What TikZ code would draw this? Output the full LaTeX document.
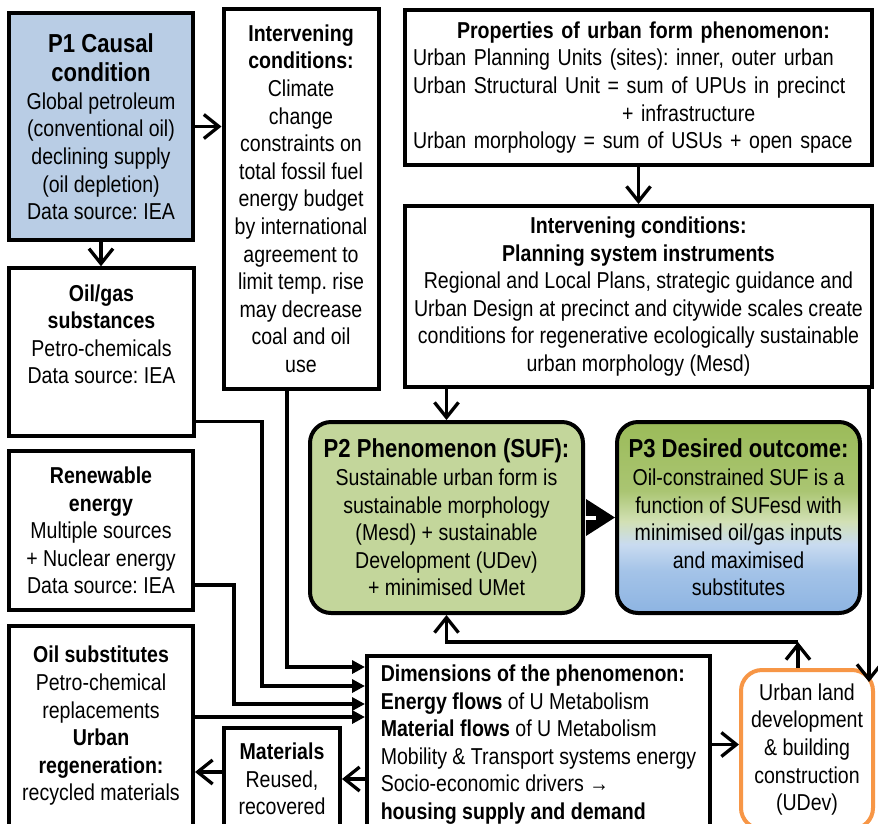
\documentclass[tikz,border=0pt]{standalone}
\usepackage{fontspec}
\setmainfont{Liberation Sans}[FakeStretch=0.85]
\usetikzlibrary{arrows.meta, positioning, calc}
\frenchspacing

\definecolor{p1blue}{HTML}{B9CDE5}
\definecolor{p2green}{HTML}{C3D69B}
\definecolor{p3green}{HTML}{9BBB59}
\definecolor{p3light}{HTML}{C9DBF0}
\definecolor{p3blue}{HTML}{8DB4E2}
\definecolor{devorange}{HTML}{F79646}
\colorlet{p3blueb}{p3blue!80!white}
\colorlet{p3greenb}{p3green!45!white}
\colorlet{p3greenc}{p3green!85!white}

\pgfdeclareverticalshading{p3shade}{100bp}{color(0bp)=(p3blue); color(25bp)=(p3blue);
  color(36bp)=(p3blueb); color(43bp)=(p3light); color(49bp)=(p3greenb);
  color(57bp)=(p3greenc); color(75bp)=(p3green); color(100bp)=(p3green)}

\newcommand\ttl{\fontsize{26}{30}\selectfont\bfseries}

\begin{document}
\begin{tikzpicture}[
  x=1pt, y=-1pt,
  box/.style={draw, line width=4pt, align=center, inner sep=0pt,
    font=\fontsize{23}{27.6}\selectfont},
  lbox/.style={box, align=left},
  roundbox/.style={box, rounded corners=21pt},
  arr/.style={-{Straight Barb[length=15pt,width=24pt]}, line width=3.3pt},
  inarr/.style={-{Triangle[length=13pt,width=13pt]}, line width=3.3pt},
  bigarr/.style={-{Triangle[length=29pt,width=36pt]}, line width=4pt,
    postaction={draw=white, line width=4pt, -, shorten >=19pt}},
]
\clip (0,0) rectangle (878,823);
\fill[white] (0,0) rectangle (878,823);
%% Left column
\node[box, fill=p1blue, minimum width=184pt, minimum height=227pt] (p1) at (101,126.5)
  {\ttl P1 Causal\\[2pt]\ttl condition\\Global petroleum\\(conventional oil)\\declining supply\\(oil depletion)\\Data source: IEA};
\node[box, minimum width=185pt, minimum height=167.5pt] (gas) at (101.5,352)
  {\textbf{Oil/gas}\\\textbf{substances}\\Petro-chemicals\\Data source: IEA\\\strut};
\node[box, minimum width=184pt, minimum height=159pt] (renew) at (101,530.5)
  {\textbf{Renewable}\\\textbf{energy}\\Multiple sources\\+ Nuclear energy\\Data source: IEA};
\node[box, minimum width=184pt, minimum height=200pt] (subst) at (101,726)
  {\textbf{Oil substitutes}\\Petro-chemical\\replacements\\\textbf{Urban}\\\textbf{regeneration:}\\recycled materials};
%% Intervening conditions
\node[box, minimum width=155pt, minimum height=379.5pt] (clim) at (301,198.75)
  {\textbf{Intervening}\\\textbf{conditions:}\\Climate\\change\\constraints on\\total fossil fuel\\energy budget\\by international\\agreement to\\limit temp. rise\\may decrease\\coal and oil\\use};
\node[lbox, text width=451pt, minimum width=467pt, minimum height=155pt] (prop) at (638.5,87.5)
  {\hspace*{44pt}\textbf{Properties of urban form phenomenon:}\\Urban Planning Units (sites): inner, outer urban\\Urban Structural Unit = sum of UPUs in precinct\\\hspace*{209pt}+ infrastructure\\Urban morphology = sum of USUs + open space};
\node[box, minimum width=467pt, minimum height=181pt] (plan) at (638.5,296.5)
  {\textbf{Intervening conditions:}\\\textbf{Planning system instruments}\\Regional and Local Plans, strategic guidance and\\Urban Design at precinct and citywide scales create\\conditions for regenerative ecologically sustainable\\urban morphology (Mesd)};
%% Phenomenon and outcome
\node[roundbox, fill=p2green, minimum width=273pt, minimum height=191pt] (p2) at (446.5,517.5)
  {\ttl P2 Phenomenon (SUF):\\Sustainable urban form is\\sustainable morphology\\(Mesd) + sustainable\\Development (UDev)\\+ minimised UMet};
\node[roundbox, shading=p3shade, minimum width=243pt, minimum height=191pt] (p3) at (738.5,517.5)
  {\ttl P3 Desired outcome:\\Oil-constrained SUF is a\\function of SUFesd with\\minimised oil/gas inputs\\and maximised\\substitutes};
%% Bottom row
\node[lbox, minimum width=343pt, minimum height=177pt] (dim) at (538.5,744.5)
  {\textbf{Dimensions of the phenomenon:}\\\textbf{Energy flows} of U Metabolism\\\textbf{Material flows} of U Metabolism\\Mobility \& Transport systems energy\\Socio-economic drivers →\\\textbf{housing supply and demand}};
\node[box, minimum width=116pt, minimum height=102pt] (mat) at (282,779)
  {\textbf{Materials}\\Reused,\\recovered};
\node[roundbox, draw=devorange, minimum width=132pt, minimum height=159pt] (udev) at (807,749.5)
  {Urban land\\development\\\& building\\construction\\(UDev)};
%% Arrows
\draw[arr] (p1) -- (p1.east -| clim.west);
\draw[arr] (p1.south) -- (p1.south |- gas.north);
\draw[arr] (prop) -- (plan);
\draw[arr] (plan.south -| p2.north) -- (p2.north);
\coordinate (udevin) at (869,682);
\draw[arr] (plan.south -| udevin) -- (udevin);
\draw[bigarr] (p2.east) -- (p2.east -| p3.west);
%% Inputs to dimensions
\coordinate (d1) at ([yshift=-13pt]dim.north west);
\coordinate (d2) at ([yshift=-32pt]dim.north west);
\coordinate (d3) at ([yshift=-50pt]dim.north west);
\coordinate (d4) at ([yshift=-63pt]dim.north west);
\draw[inarr] ([xshift=-14pt]clim.south) |- (d1);
\draw[inarr] ([yshift=16pt]gas.south east) -| ([xshift=-103pt]d2) -- (d2);
\draw[inarr] ([yshift=27pt]renew.south east) -| ([xshift=-131pt]d3) -- (d3);
\draw[inarr] (subst.east |- d4) -- (d4);
%% Outputs
\draw[arr] (dim.west |- mat.east) -- (mat.east);
\draw[arr] ([yshift=7pt]mat.west) -- ([yshift=7pt]mat.west -| subst.east);
\draw[arr] (dim.east) -- (dim.east -| udev.west);
%% Feedback
\coordinate (fbk) at (798,642);
\draw[arr] (fbk |- udev.north) -- (fbk);
\draw[arr] (fbk) -| (p2.south);
\end{tikzpicture}
\end{document}
